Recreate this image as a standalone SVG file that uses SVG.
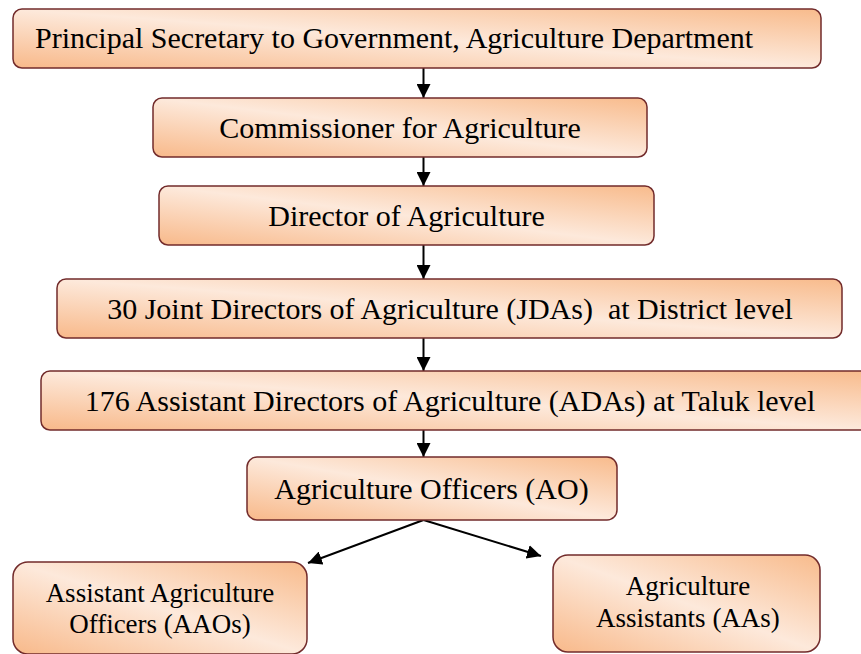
<svg xmlns="http://www.w3.org/2000/svg" width="861" height="654" viewBox="0 0 861 654">
<style>
.box{fill:url(#g);stroke:#722B2B;stroke-width:1.5}
text{font-family:'Liberation Serif','DejaVu Serif',serif;font-size:30px;fill:#000;text-anchor:middle}
.s{font-size:27px}
.c{stroke:#000;stroke-width:2;fill:none;marker-end:url(#ah)}
</style>
<defs>
<linearGradient id="g" x1="0" y1="1" x2="1" y2="0">
<stop offset="0" stop-color="#F8B98A"/>
<stop offset="0.5" stop-color="#FDE9DB"/>
<stop offset="1" stop-color="#F8BB8C"/>
</linearGradient>
<marker id="ah" viewBox="0 0 14 14" refX="14" refY="7" markerWidth="14" markerHeight="14" markerUnits="userSpaceOnUse" orient="auto">
<path d="M0,0 L14,7 L0,14 z" fill="#000"/>
</marker>
</defs>
<g id="connectors">
<line class="c" x1="423.5" y1="68" x2="423.5" y2="98"/>
<line class="c" x1="423.5" y1="157" x2="423.5" y2="186"/>
<line class="c" x1="423.5" y1="245" x2="423.5" y2="279"/>
<line class="c" x1="423.5" y1="338" x2="423.5" y2="371"/>
<line class="c" x1="423.5" y1="430" x2="423.5" y2="457"/>
<line class="c" x1="423.5" y1="520" x2="308" y2="563"/>
<line class="c" x1="423.5" y1="520" x2="541" y2="556"/>
</g>
<g id="n1"><rect class="box" x="13" y="9" width="808" height="59" rx="9"/><text x="35" y="48" style="text-anchor:start">Principal Secretary to Government, Agriculture Department</text></g>
<g id="n2"><rect class="box" x="153" y="98" width="494" height="59" rx="9"/><text x="400" y="137.5">Commissioner for Agriculture</text></g>
<g id="n3"><rect class="box" x="159" y="186" width="495" height="59" rx="9"/><text x="406.5" y="226">Director of Agriculture</text></g>
<g id="n4"><rect class="box" x="57" y="279" width="785" height="59" rx="9"/><text x="450" y="319" xml:space="preserve">30 Joint Directors of Agriculture (JDAs)  at District level</text></g>
<g id="n5"><rect class="box" x="41" y="371" width="830" height="59" rx="9"/><text x="450" y="411">176 Assistant Directors of Agriculture (ADAs) at Taluk level</text></g>
<g id="n6"><rect class="box" x="247" y="457" width="370" height="63" rx="10"/><text x="431.5" y="499">Agriculture Officers (AO)</text></g>
<g id="n7"><rect class="box" x="13" y="562" width="294" height="92" rx="15"/><text class="s" x="160" y="602">Assistant Agriculture</text><text class="s" x="160" y="633">Officers (AAOs)</text></g>
<g id="n8"><rect class="box" x="553" y="555" width="267" height="97" rx="15"/><text class="s" x="688" y="595">Agriculture</text><text class="s" x="688" y="627">Assistants (AAs)</text></g>
</svg>
